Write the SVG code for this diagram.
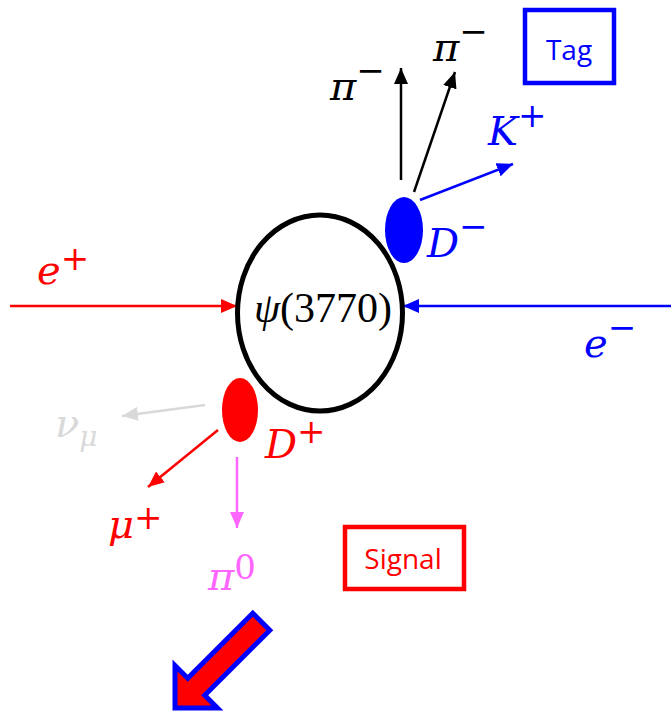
<svg xmlns="http://www.w3.org/2000/svg" width="671" height="713" viewBox="0 0 671 713">
<style>
.m{font-family:"DejaVu Serif","Liberation Serif",serif;font-style:italic;font-size:40px}
.s{font-family:"DejaVu Serif","Liberation Serif",serif;font-style:normal;font-size:34px}
.lbl{font-family:"Open Sans","Liberation Sans",sans-serif;font-size:28px;text-anchor:middle}
.ln{fill:none;stroke-width:2.5}
</style>
<defs>
<marker id="hk" markerUnits="userSpaceOnUse" markerWidth="16" markerHeight="14" refX="16" refY="7" orient="auto"><path d="M0,0 L16,7 L0,14 z" fill="#000"/></marker>
<marker id="hb" markerUnits="userSpaceOnUse" markerWidth="16" markerHeight="14" refX="16" refY="7" orient="auto"><path d="M0,0 L16,7 L0,14 z" fill="#0000ff"/></marker>
<marker id="hr" markerUnits="userSpaceOnUse" markerWidth="16" markerHeight="14" refX="16" refY="7" orient="auto"><path d="M0,0 L16,7 L0,14 z" fill="#ff0000"/></marker>
<marker id="hg" markerUnits="userSpaceOnUse" markerWidth="16" markerHeight="14" refX="16" refY="7" orient="auto"><path d="M0,0 L16,7 L0,14 z" fill="#d9d9d9"/></marker>
<marker id="hm" markerUnits="userSpaceOnUse" markerWidth="16" markerHeight="14" refX="16" refY="7" orient="auto"><path d="M0,0 L16,7 L0,14 z" fill="#ff66ff"/></marker>
</defs>
<rect width="671" height="713" fill="#fff"/>

<g id="connectors">
<line class="ln" x1="10" y1="306" x2="237" y2="306" stroke="#ff0000" marker-end="url(#hr)"/>
<line class="ln" x1="671" y1="306" x2="403" y2="306" stroke="#0000ff" marker-end="url(#hb)"/>
<line class="ln" x1="401" y1="180" x2="401" y2="68" stroke="#000" marker-end="url(#hk)"/>
<line class="ln" x1="414" y1="192" x2="455" y2="72" stroke="#000" marker-end="url(#hk)"/>
<line class="ln" x1="420" y1="200" x2="513" y2="164" stroke="#0000ff" marker-end="url(#hb)"/>
<line class="ln" x1="205" y1="405" x2="122" y2="416" stroke="#d9d9d9" marker-end="url(#hg)"/>
<line class="ln" x1="218" y1="430" x2="148" y2="487" stroke="#ff0000" marker-end="url(#hr)"/>
<line class="ln" x1="237" y1="457" x2="237" y2="528" stroke="#ff66ff" marker-end="url(#hm)"/>
</g>

<g id="psi">
<ellipse cx="320" cy="313" rx="82.5" ry="98" fill="none" stroke="#000" stroke-width="5"/>
<text x="323" y="322" text-anchor="middle" font-family="'Liberation Serif','DejaVu Serif',serif" font-size="42"><tspan font-style="italic">ψ</tspan>(3770)</text>
</g>

<g id="Dminus">
<ellipse cx="404" cy="230" rx="19" ry="33" fill="#0000ff"/>
<text class="m" x="427" y="257" fill="#0000ff">D<tspan class="s" dy="-19">−</tspan></text>
</g>

<g id="Dplus">
<ellipse cx="240" cy="410" rx="18" ry="32" fill="#ff0000"/>
<text class="m" x="265" y="458" fill="#ff0000">D<tspan class="s" dy="-15">+</tspan></text>
</g>

<g id="eplus"><text class="m" x="37" y="284" fill="#ff0000">e<tspan class="s" dy="-14">+</tspan></text></g>
<g id="eminus"><text class="m" x="584" y="357" fill="#0000ff">e<tspan class="s" dy="-18">−</tspan></text></g>
<g id="pi1"><text class="m" x="330" y="100" fill="#000">π<tspan class="s" dy="-18">−</tspan></text></g>
<g id="pi2"><text class="m" x="433" y="61" fill="#000">π<tspan class="s" dy="-18">−</tspan></text></g>
<g id="Kplus"><text class="m" x="488" y="145" fill="#0000ff">K<tspan class="s" dy="-18">+</tspan></text></g>
<g id="nu"><text class="m" x="55" y="437" fill="#d9d9d9">ν<tspan font-size="28" dy="9">μ</tspan></text></g>
<g id="muplus"><text class="m" x="108" y="538" fill="#ff0000">μ<tspan class="s" dy="-9">+</tspan></text></g>
<g id="pi0"><text class="m" x="208" y="590" fill="#ff66ff">π<tspan class="s" dy="-11" font-size="38">0</tspan></text></g>

<g id="tag">
<rect x="525" y="10" width="89" height="73" fill="none" stroke="#0000ff" stroke-width="4.5"/>
<text class="lbl" x="569" y="60" fill="#0000ff">Tag</text>
</g>
<g id="signal">
<rect x="345" y="527" width="119" height="62" fill="none" stroke="#ff0000" stroke-width="4.5"/>
<text class="lbl" x="403" y="569" fill="#ff0000">Signal</text>
</g>

<g id="bigarrow">
<path transform="translate(175,708) rotate(135)" d="M0,0 L-30,-30 L-30,-12 L-122,-12 L-122,12 L-30,12 L-30,30 Z" fill="#ff0000" stroke="#0000ff" stroke-width="5" stroke-linejoin="miter"/>
</g>
</svg>
